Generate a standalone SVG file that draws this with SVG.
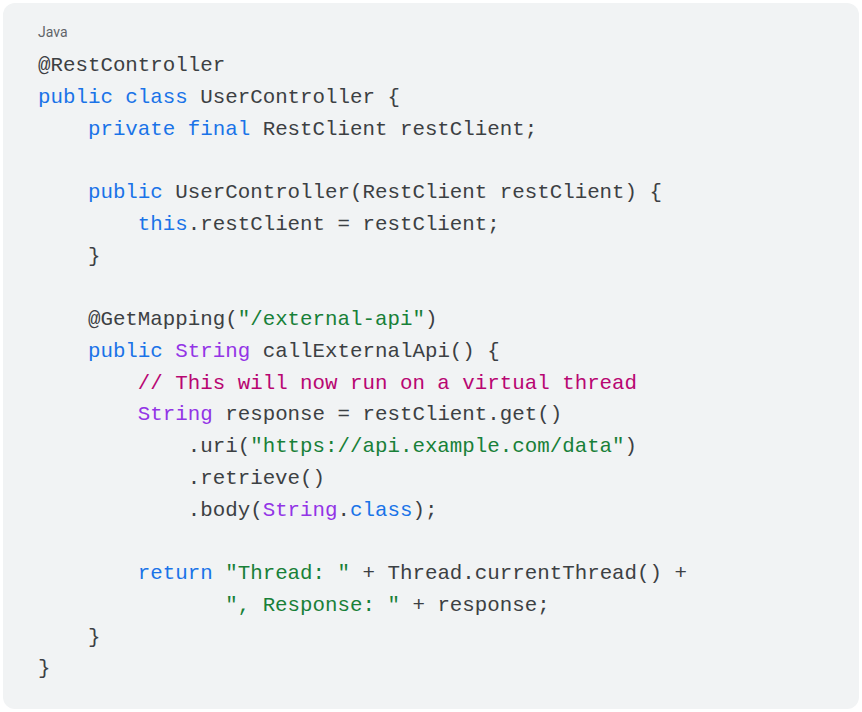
<svg xmlns="http://www.w3.org/2000/svg" width="862" height="712" viewBox="0 0 862 712">
<style>
.c{font-family:"Liberation Mono","DejaVu Sans Mono",monospace;font-size:20.8px;fill:#3c4043;white-space:pre}
.k{fill:#1a73e8}.t{fill:#9334e6}.s{fill:#188038}.m{fill:#b80672}
</style>
<rect width="862" height="712" fill="#fff"/>
<g id="block">
<rect x="3" y="3" width="856" height="706" rx="12" fill="#f1f3f4"/>
<text x="38" y="37" font-family="Roboto,'Liberation Sans',sans-serif" font-size="14" fill="#5f6368">Java</text>
<text class="c" xml:space="preserve">
<tspan x="38" y="71">@RestController</tspan>
<tspan x="38" y="102.75"><tspan class="k">public class</tspan> UserController {</tspan>
<tspan x="38" y="134.5">    <tspan class="k">private final</tspan> RestClient restClient;</tspan>
<tspan x="38" y="198">    <tspan class="k">public</tspan> UserController(RestClient restClient) {</tspan>
<tspan x="38" y="229.75">        <tspan class="k">this</tspan>.restClient = restClient;</tspan>
<tspan x="38" y="261.5">    }</tspan>
<tspan x="38" y="325">    @GetMapping(<tspan class="s">"/external-api"</tspan>)</tspan>
<tspan x="38" y="356.75">    <tspan class="k">public</tspan> <tspan class="t">String</tspan> callExternalApi() {</tspan>
<tspan x="38" y="388.5">        <tspan class="m">// This will now run on a virtual thread</tspan></tspan>
<tspan x="38" y="420.25">        <tspan class="t">String</tspan> response = restClient.get()</tspan>
<tspan x="38" y="452">            .uri(<tspan class="s">"https://api.example.com/data"</tspan>)</tspan>
<tspan x="38" y="483.75">            .retrieve()</tspan>
<tspan x="38" y="515.5">            .body(<tspan class="t">String</tspan>.<tspan class="k">class</tspan>);</tspan>
<tspan x="38" y="579">        <tspan class="k">return</tspan> <tspan class="s">"Thread: "</tspan> + Thread.currentThread() +</tspan>
<tspan x="38" y="610.75">               <tspan class="s">", Response: "</tspan> + response;</tspan>
<tspan x="38" y="642.5">    }</tspan>
<tspan x="38" y="674.25">}</tspan>
</text>
</g>
</svg>
